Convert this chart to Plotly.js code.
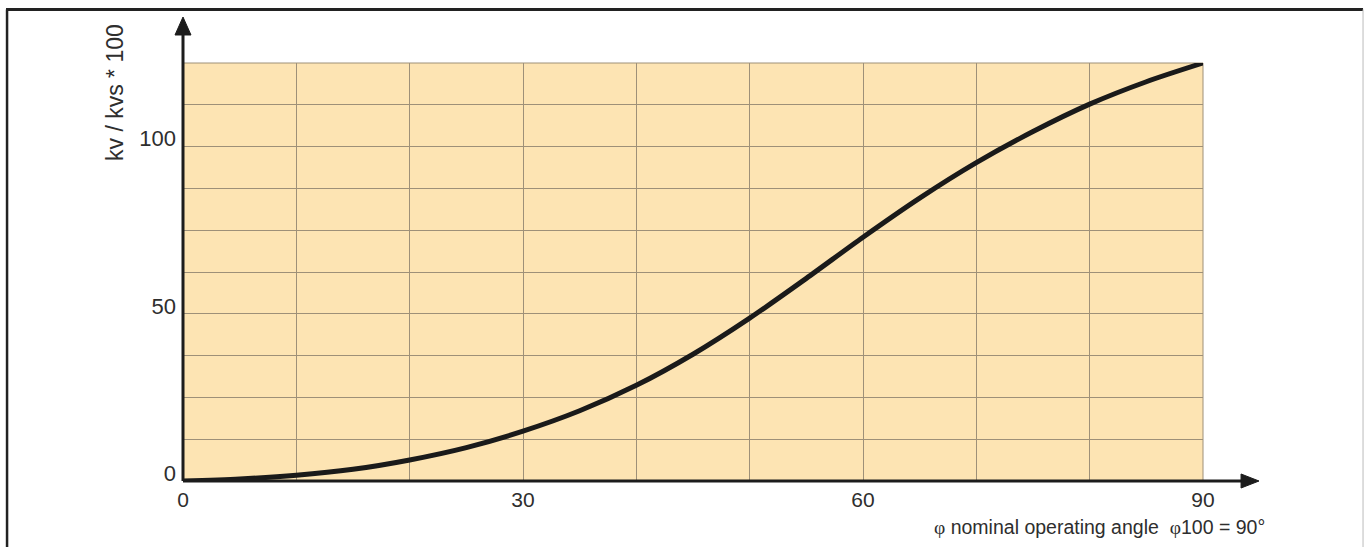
<!DOCTYPE html>
<html>
<head>
<meta charset="utf-8">
<script src="https://cdn.plot.ly/plotly-3.0.1.min.js"></script>
<style>
html,body{margin:0;padding:0;background:#fff;}
#chart{width:1365px;height:547px;}
</style>
</head>
<body>
<div id="chart"></div>
<script>
// Data
const angle = [0, 5, 10, 15, 20, 25, 30, 35, 40, 45, 50, 55, 60, 65, 70, 75, 80, 85, 90];
const kvRatio = [0, 0.6, 1.7, 3.5, 6.3, 10, 14.9, 21, 28.6, 37.9, 48.7, 60.6, 72.9, 84.6, 95.2, 104.5, 112.7, 119.4, 125];
const xTickVals = [0, 30, 60, 90];
const xTickText = ['0', '30', '60', '90'];
const yTickVals = [0, 50, 100];
const yTickText = ['0', '50', '100'];
const xTitle = '<span style="font-family:\'Liberation Serif\'">φ</span> nominal operating angle  <span style="font-family:\'Liberation Serif\'">φ</span>100 = 90°';
const yTitle = 'kv / kvs * 100';

const gridColor = '#9e9078';
const axisColor = '#1c1c1c';
const textColor = '#2e2e2e';
const sans = "'Liberation Sans', Arial, sans-serif";

const trace = {
  x: angle,
  y: kvRatio,
  type: 'scatter',
  mode: 'lines',
  line: {color: '#1a1a1a', width: 5, shape: 'spline', smoothing: 0.8},
  hoverinfo: 'skip',
  cliponaxis: false
};

const layout = {
  width: 1365,
  height: 547,
  margin: {l: 183, r: 162, t: 63, b: 66, pad: 0},
  paper_bgcolor: '#ffffff',
  plot_bgcolor: '#FDE4B3',
  showlegend: false,
  font: {family: sans, size: 22, color: textColor},
  xaxis: {
    range: [0, 90],
    tickvals: xTickVals,
    ticktext: xTickText,
    showgrid: true,
    gridcolor: gridColor,
    gridwidth: 1,
    zeroline: false,
    showline: false,
    ticks: '',
    ticklabelstandoff: 4,
    tickfont: {family: sans, size: 21, color: textColor},
    minor: {dtick: 10, tick0: 0, showgrid: true, gridcolor: gridColor, gridwidth: 1, ticks: ''},
    fixedrange: true
  },
  yaxis: {
    range: [0, 125],
    tickvals: yTickVals,
    ticktext: yTickText,
    showgrid: true,
    gridcolor: gridColor,
    gridwidth: 1,
    zeroline: false,
    showline: false,
    ticks: '',
    ticklabelstandoff: 6,
    ticklabelshift: -8,
    tickfont: {family: sans, size: 22, color: textColor},
    minor: {dtick: 12.5, tick0: 0, showgrid: true, gridcolor: gridColor, gridwidth: 1, ticks: ''},
    fixedrange: true
  },
  shapes: [
    {type: 'rect', xref: 'paper', yref: 'paper', x0: 0, x1: 1, y0: 0, y1: 1, line: {color: gridColor, width: 1}, layer: 'between'},
    {type: 'line', xref: 'paper', yref: 'paper', x0: 0, x1: 0, y0: 0, y1: 1.085, line: {color: axisColor, width: 3}},
    {type: 'path', xref: 'paper', yref: 'paper', path: 'M -0.00784,1.067 L 0,1.110 L 0.00784,1.067 Z', fillcolor: axisColor, line: {color: axisColor, width: 1}},
    {type: 'line', xref: 'paper', yref: 'paper', x0: 0, x1: 1.04, y0: 0, y1: 0, line: {color: axisColor, width: 3}},
    {type: 'path', xref: 'paper', yref: 'paper', path: 'M 1.0373,0.01675 L 1.0549,0 L 1.0373,-0.01675 Z', fillcolor: axisColor, line: {color: axisColor, width: 1}},
    {type: 'line', xref: 'paper', yref: 'paper', x0: -0.1735, x1: 1.1569, y0: 1.128, y1: 1.128, line: {color: '#222222', width: 3}},
    {type: 'line', xref: 'paper', yref: 'paper', x0: -0.1725, x1: -0.1725, y0: 1.128, y1: -0.2, line: {color: '#222222', width: 2.5}},
    {type: 'line', xref: 'paper', yref: 'paper', x0: 1.1569, x1: 1.1569, y0: 1.128, y1: -0.2, line: {color: '#bbbbbb', width: 1}}
  ],
  annotations: [
    {text: xTitle, xref: 'paper', yref: 'paper', x: 1.0627, y: -0.110, xanchor: 'right', yanchor: 'middle', showarrow: false, font: {family: sans, size: 19.5, color: textColor}},
    {text: yTitle, xref: 'paper', yref: 'paper', x: -0.0667, y: 0.9306, xanchor: 'center', yanchor: 'middle', textangle: -90, showarrow: false, font: {family: sans, size: 23, color: textColor}}
  ]
};

Plotly.newPlot('chart', [trace], layout, {displayModeBar: false, staticPlot: true});
</script>
</body>
</html>
